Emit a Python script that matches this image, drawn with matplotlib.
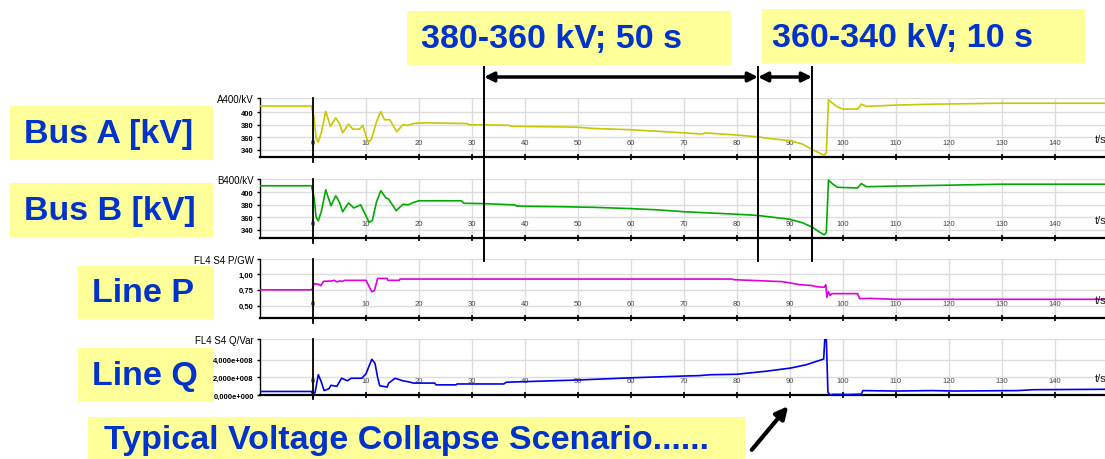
import numpy as np
import matplotlib.pyplot as plt
from matplotlib.patches import Rectangle
from matplotlib.transforms import blended_transform_factory

plt.rcParams['font.family'] = ['Liberation Sans', 'DejaVu Sans']

# --- data ---
tA = [-10, -0.3, 0.2, 0.6, 1.0, 1.6, 2.4, 3.3, 4.3, 5.0, 5.6, 6.7, 7.5, 8.8, 9.4, 10.4, 11.0, 12.0, 12.8, 13.5,
      14.5, 15.8, 17.0, 18.0, 19.0, 21.0, 29.0, 29.5, 32.0, 37.0, 37.5, 47.0, 50.0, 53.0, 60.0, 65.0, 70.0, 73.5,
      74.0, 80.0, 84.0, 86.0, 90.0, 92.4, 94.3, 96.5, 96.9, 97.3, 98.0, 98.8, 100.0, 102.8, 103.5, 104.5, 110.0,
      117.0, 130.0, 150.0]
vA = [410, 410, 392, 358, 352, 368, 401.5, 377.5, 391, 382, 367, 381, 373, 373, 379, 352, 356, 385, 401, 388,
      388, 369, 380, 379, 382, 383, 382, 380, 380, 379, 377.5, 376.5, 376, 374, 372, 369.5, 367, 365,
      367, 363.5, 360.5, 358, 354.5, 349, 340, 331, 335, 420, 415, 409.5, 405, 405, 413, 409.5, 411.5,
      413, 414.5, 414.5]

tB = [-10, -0.3, 0.2, 0.6, 1.0, 1.6, 2.4, 3.4, 4.3, 5.0, 5.6, 6.7, 7.7, 9.0, 10.6, 11.2, 12.0, 12.8, 13.8, 14.3,
      15.7, 17.0, 18.0, 19.0, 20.0, 28.0, 28.5, 32.0, 38.0, 38.5, 47.0, 53.0, 60.0, 65.0, 70.0, 75.0, 80.0, 84.0,
      87.0, 90.0, 92.5, 94.3, 95.5, 96.5, 96.9, 97.3, 98.0, 99.0, 102.8, 103.5, 104.5, 110.0, 117.0, 130.0, 150.0]
vB = [410.5, 410.5, 392, 360, 354.5, 370, 404, 378.5, 394.5, 384, 369, 383, 375, 380, 352, 355, 385, 402.5, 391, 389,
      370.5, 381, 380, 384, 386.5, 386.5, 382.5, 382, 380, 378, 377, 376, 374, 372, 369, 367, 365, 363,
      360, 357, 351, 344, 337, 332, 336, 419.5, 414, 408, 407, 414, 409, 410, 411, 413, 413]

tP = [-10, -0.2, 0.2, 1.0, 1.5, 2.0, 3.5, 4.0, 4.5, 5.0, 5.5, 6.0, 10.0, 10.5, 11.1, 11.6, 12.2, 14.0, 14.1, 16.3,
      16.4, 79.0, 79.5, 88.5, 90.0, 92.0, 94.0, 95.0, 96.5, 96.8, 97.0, 97.3, 97.6, 98.0, 102.8, 103.2, 105.0,
      110.0, 150.0]
vP = [0.75, 0.75, 0.845, 0.84, 0.815, 0.885, 0.89, 0.90, 0.875, 0.89, 0.885, 0.90, 0.90, 0.82, 0.72, 0.74, 0.93,
      0.93, 0.90, 0.90, 0.92, 0.92, 0.91, 0.88, 0.86, 0.83, 0.82, 0.80, 0.79, 0.83, 0.63, 0.72, 0.66, 0.69, 0.69,
      0.61, 0.615, 0.60, 0.60]

tQ = [-10, -0.3, 0.0, 0.4, 1.0, 1.5, 2.1, 3.0, 3.4, 4.5, 5.4, 6.5, 7.2, 9.2, 10.0, 11.1, 11.7, 12.2, 12.6, 14.0,
      14.3, 15.5, 17.0, 18.0, 19.0, 23.0, 23.2, 27.0, 27.2, 36.0, 36.5, 50.0, 60.0, 70.0, 73.0, 75.0, 80.0, 85.6,
      90.2, 93.1, 96.4, 96.6, 96.9, 97.2, 97.6, 98.2, 101.0, 103.5, 103.8, 110.0, 117.0, 121.0, 133.0, 136.0, 150.0]
vQ_e8 = [0.4, 0.4, 0.0, 0.3, 2.3, 1.6, 0.5, 0.7, 1.1, 0.98, 1.9, 1.62, 1.9, 1.9, 2.4, 4.05, 3.6, 2.0, 1.05, 0.9,
         1.36, 1.9, 1.6, 1.5, 1.35, 1.35, 1.15, 1.15, 1.25, 1.25, 1.45, 1.7, 1.95, 2.15, 2.2, 2.3, 2.35, 2.7,
         3.06, 3.43, 4.08, 6.3, 6.3, 0.3, 0.0, 0.08, 0.05, 0.1, 0.5, 0.45, 0.5, 0.45, 0.5, 0.6, 0.65]

time_ticks = list(range(0, 150, 10))
span_marks = [32.3, 84.0, 94.2]   # 380->360 kV and 360->340 kV intervals

W, H = 1105, 460
yellow = '#ffff99'
blue = '#0033cc'

fig = plt.figure(figsize=(W / 100, H / 100), dpi=100)

panels = [
    (tA, vA, '#c8c800', (327.8, 422.4), [340, 360, 380, 400], ['340', '360', '380', '400'], 'A400/kV', 99.3, 158.3),
    (tB, vB, '#00aa00', (327.0, 421.8), [340, 360, 380, 400], ['340', '360', '380', '400'], 'B400/kV', 179.7, 239.0),
    (tP, vP, '#e000e0', (0.30, 1.242), [0.5, 0.75, 1.0], ['0,50', '0,75', '1,00'], 'FL4 S4 P/GW', 259.7, 319.3),
    (tQ, np.array(vQ_e8) * 1e8, '#0000ee', (0, 6.35e8), [0, 2e8, 4e8],
     ['0,000e+000', '2,000e+008', '4,000e+008'], 'FL4 S4 Q/Var', 340.0, 396.0),
]

axes = []
for t, v, col, ylim, yt, ytl, name, top, bot in panels:
    ax = fig.add_axes([260 / W, 1 - bot / H, (W - 260) / W, (bot - top) / H])
    ax.plot(t, v, color=col, lw=1.2, zorder=3)
    ax.set_xlim(-10, 149.5)
    ax.set_ylim(*ylim)
    ax.set_yticks(yt + [ylim[1]])
    ax.set_yticklabels(ytl + [name])
    for lab in ax.get_yticklabels()[:-1]:
        lab.set_fontsize(5.5)
        lab.set_fontweight('bold')
    ax.get_yticklabels()[-1].set_fontsize(7)
    ax.set_xticks(time_ticks)
    ax.set_xticklabels([str(x) for x in time_ticks])
    for lab in ax.get_xticklabels():
        lab.set_va('bottom')
    ax.tick_params(axis='x', direction='inout', length=5, width=1.2, pad=-10.4,
                   labelsize=5.5, labelcolor='#444444')
    ax.tick_params(axis='y', direction='out', length=2.5, width=1, pad=2)
    ax.grid(True, color='#dddddd', lw=1, zorder=0)
    for s in ['top', 'right']:
        ax.spines[s].set_visible(False)
    ax.spines['left'].set_linewidth(1)
    ax.spines['bottom'].set_linewidth(1.6)
    ax.set_facecolor('none')
    ax.axvline(0, ymin=-0.08, ymax=1.0, color='black', lw=1.3, clip_on=False, zorder=4)
    trans = blended_transform_factory(ax.transData, ax.transAxes)
    ax.text(147.5, 0.22, 't/s', transform=trans, fontsize=8, ha='left', va='bottom', color='#222222')
    axes.append(ax)

# interval markers spanning the bus panels
ftrans = blended_transform_factory(axes[0].transData, fig.transFigure)
for m in span_marks:
    fig.add_artist(plt.Line2D([m, m], [1 - 68 / H, 1 - 262 / H], transform=ftrans, color='black', lw=1.4))
arrow_y = 1 - 78 / H
for a, b in [(span_marks[0], span_marks[1]), (span_marks[1], span_marks[2])]:
    axes[0].annotate('', xy=(b, arrow_y), xytext=(a, arrow_y), xycoords=ftrans, textcoords=ftrans,
                     annotation_clip=False,
                     arrowprops=dict(arrowstyle='<|-|>', color='black', lw=2.5, mutation_scale=14,
                                     shrinkA=0, shrinkB=0))


def label_box(x0, y0, x1, y1, text, tx, ty):
    fig.add_artist(Rectangle((x0 / W, 1 - y1 / H), (x1 - x0) / W, (y1 - y0) / H,
                             transform=fig.transFigure, facecolor=yellow, edgecolor='none', zorder=0))
    fig.text(tx / W, 1 - ty / H, text, ha='left', va='center', fontsize=24.5,
             fontweight='bold', color=blue)


label_box(407, 12, 731, 66, '380-360 kV; 50 s', 421, 40)
label_box(762, 10, 1085, 64, '360-340 kV; 10 s', 772, 39)
label_box(10, 107, 213, 161, 'Bus A [kV]', 24, 135)
label_box(10, 184, 213, 238, 'Bus B [kV]', 24, 212)
label_box(78, 267, 214, 320, 'Line P', 92, 294)
label_box(78, 349, 214, 403, 'Line Q', 92, 376)
label_box(88, 418, 745, 460, 'Typical Voltage Collapse Scenario......', 104, 441)

axes[-1].annotate('', xy=(790 / W, 1 - 405 / H), xytext=(750 / W, 1 - 453 / H),
                  xycoords='figure fraction', textcoords='figure fraction', annotation_clip=False,
                  arrowprops=dict(arrowstyle='-|>', color='black', lw=3, mutation_scale=18))

fig.savefig('out.png', dpi=100)
